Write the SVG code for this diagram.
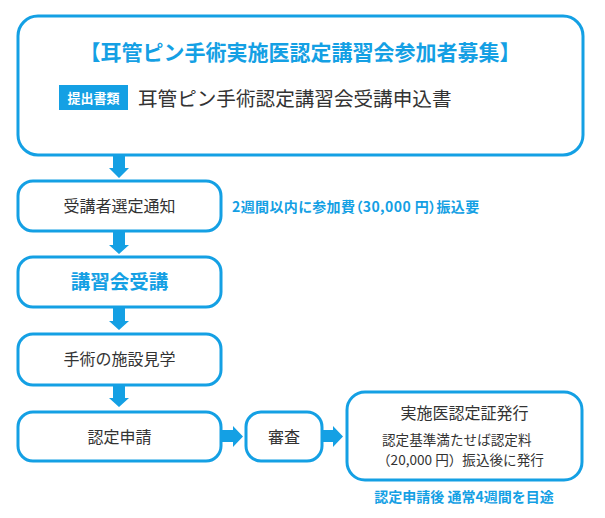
<svg xmlns="http://www.w3.org/2000/svg" width="605" height="518" viewBox="0 0 605 518">
<style>
.box{fill:#fff;stroke:#14a0e4;stroke-width:3}
.arr{fill:#14a0e4}
text{font-family:"Noto Sans CJK JP","Noto Sans",sans-serif}
.dark{fill:#333}
.blue{fill:#14a0e4}
.b{font-weight:bold}
.palt{font-feature-settings:"palt"}
</style>
<rect width="605" height="518" fill="#fff"/>
<g id="connectors">
<path class="arr" d="M113,155H125V168H129L119,178L109,168H113Z"/>
<path class="arr" d="M113,232H125V245H129L119,254L109,245H113Z"/>
<path class="arr" d="M113,308H125V321H129L119,330L109,321H113Z"/>
<path class="arr" d="M113,386H125V398H129L119,407L109,398H113Z"/>
<path class="arr" d="M221,430H233V426L243,436.5L233,447V442H221Z"/>
<path class="arr" d="M323,430H333V426L343,436.5L333,447V442H323Z"/>
</g>
<g id="recruit">
<rect class="box" x="18" y="16" width="565" height="139" rx="20"/>
<text class="blue b" x="300" y="60" font-size="21" text-anchor="middle">【耳管ピン手術実施医認定講習会参加者募集】</text>
<rect x="59" y="85" width="69" height="25" fill="#14a0e4"/>
<text x="93.5" y="103" font-size="13" fill="#fff" font-weight="bold" text-anchor="middle">提出書類</text>
<text class="dark" x="138" y="106" font-size="19.6">耳管ピン手術認定講習会受講申込書</text>
</g>
<g id="notice">
<rect class="box" x="18" y="181" width="203" height="50" rx="15"/>
<text class="dark" x="119.5" y="212" font-size="16" text-anchor="middle">受講者選定通知</text>
</g>
<text id="fee-note" class="blue b palt" x="232" y="212" font-size="14" letter-spacing="0.4">2週間以内に参加費（30,000 円）振込要</text>
<g id="lecture">
<rect class="box" x="18" y="257" width="203" height="50" rx="15"/>
<text class="blue b" x="119.5" y="289" font-size="19.5" text-anchor="middle">講習会受講</text>
</g>
<g id="visit">
<rect class="box" x="18" y="334" width="203" height="51" rx="15"/>
<text class="dark" x="119.5" y="365" font-size="16" text-anchor="middle">手術の施設見学</text>
</g>
<g id="apply">
<rect class="box" x="18" y="412" width="203" height="49" rx="15"/>
<text class="dark" x="119.5" y="443" font-size="16" text-anchor="middle">認定申請</text>
</g>
<g id="review">
<rect class="box" x="246" y="412" width="76" height="49" rx="15"/>
<text class="dark" x="284" y="443" font-size="16" text-anchor="middle">審査</text>
</g>
<g id="issue">
<rect class="box" x="347" y="392" width="235" height="88" rx="18"/>
<text class="dark" x="464.5" y="419" font-size="16" text-anchor="middle">実施医認定証発行</text>
<text class="dark" x="382" y="445" font-size="13.6">認定基準満たせば認定料</text>
<text class="dark" x="377" y="465" font-size="13.6">（20,000 円）振込後に発行</text>
</g>
<text id="period-note" class="blue b" x="464" y="502" font-size="14" text-anchor="middle">認定申請後 通常4週間を目途</text>
</svg>
